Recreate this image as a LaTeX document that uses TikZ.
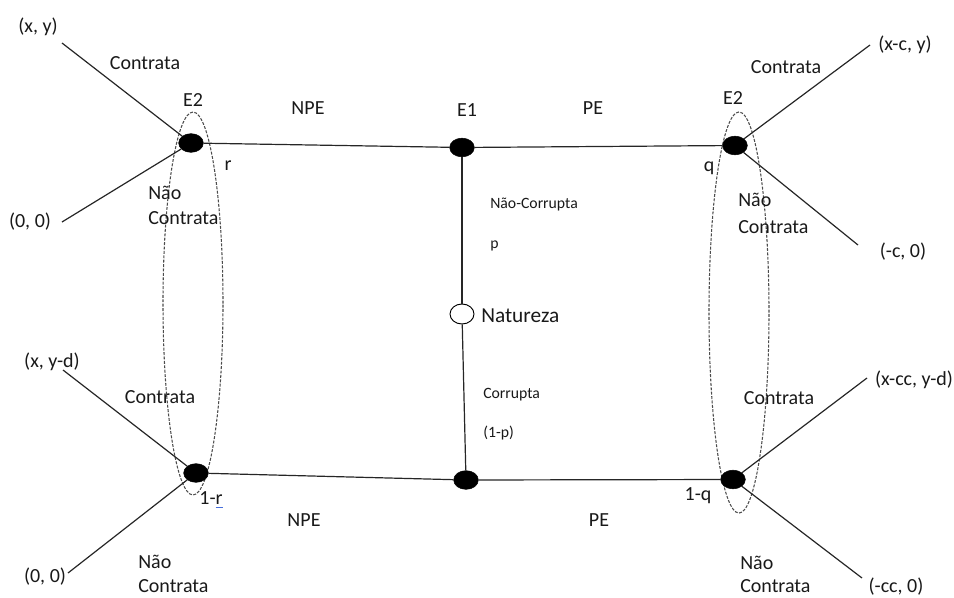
\documentclass[tikz,border=0pt]{standalone}
\usepackage{fontspec}
\setmainfont{Carlito}
\usetikzlibrary{shapes.geometric}
\definecolor{spellblue}{RGB}{70,110,220}
\tikzset{
  lab/.style={font=\fontsize{15}{18}\selectfont, inner sep=0pt, text=black!90},
  smalllab/.style={font=\fontsize{11.8}{14}\selectfont, inner sep=0pt, text=black!90},
  biglab/.style={font=\fontsize{16}{19}\selectfont, inner sep=0pt, text=black!90},
  decnode/.style={ellipse, fill=black, draw=black, minimum width=18.5pt, minimum height=14pt, inner sep=0pt},
  chancenode/.style={ellipse, fill=white, draw=black, line width=0.7pt, minimum width=18pt, minimum height=15pt, inner sep=0pt},
  branch/.style={draw=black!85, line width=0.9pt},
  infoset/.style={draw=black!70, line width=0.8pt, dash pattern=on 2.2pt off 1.1pt}
}
\begin{document}
\begin{tikzpicture}[x=0.75pt, y=-0.75pt]
\useasboundingbox (0,0) rectangle (954,597);

% information sets
\draw[infoset] (193,303.5) ellipse [x radius=22.5pt, y radius=143.6pt];
\draw[infoset] (739,312.5) ellipse [x radius=22.5pt, y radius=150.4pt];

% nodes
\node[decnode] (tl) at (191,143) {};
\node[decnode] (e1) at (462,147.5) {};
\node[decnode] (tr) at (735,145.5) {};
\node[chancenode] (nat) at (462,314) {};
\node[decnode] (bm) at (466,480) {};
\node[decnode] (bl) at (196,473) {};
\node[decnode] (br) at (733,479.5) {};

% free ends
\coordinate (tlA) at (62,43);
\coordinate (tlB) at (62,222);
\coordinate (trA) at (870,45);
\coordinate (trB) at (858,245);
\coordinate (blA) at (63,370);
\coordinate (blB) at (68,573);
\coordinate (brA) at (867,378);
\coordinate (brB) at (862,578);

% connectors
\draw[branch] (tl) -- (e1);
\draw[branch] (e1) -- (tr);
\draw[branch] (e1) -- (nat);
\draw[branch] (nat) -- (bm);
\draw[branch] (bl) -- (bm);
\draw[branch] (bm) -- (br);
\draw[branch] (tl) -- (tlA);
\draw[branch] (tl) -- (tlB);
\draw[branch] (tr) -- (trA);
\draw[branch] (tr) -- (trB);
\draw[branch] (bl) -- (blA);
\draw[branch] (bl) -- (blB);
\draw[branch] (br) -- (brA);
\draw[branch] (br) -- (brB);

% labels top-left
\node[lab] (p1) at (38,27) {(x, y)};
\node[lab] (c1) at (145,63) {Contrata};
\node[lab] (e2a) at (193,100) {E2};
\node[lab] (r) at (228,166) {r};
\node[lab, anchor=west] (n1) at (148,193) {Não};
\node[lab, anchor=west] (n1b) at (148,218) {Contrata};
\node[lab] (p2) at (30,222) {(0, 0)};

% labels top-middle
\node[lab] (npe1) at (308,108) {NPE};
\node[lab] (e1lab) at (467,110) {E1};
\node[lab] (pe1) at (593,108) {PE};

% labels top-right
\node[lab] (e2b) at (733,98) {E2};
\node[lab] (c2) at (786,67) {Contrata};
\node[lab] (p3) at (905,45) {(x-c, y)};
\node[lab] (q) at (709,168) {q};
\node[lab, anchor=west] (n2) at (738,200) {Não};
\node[lab, anchor=west] (n2b) at (738,227) {Contrata};
\node[lab] (p4) at (903,252) {(-c, 0)};

% nature labels
\node[smalllab, anchor=west] (nc) at (490,205) {Não-Corrupta};
\node[smalllab, anchor=west] (pp) at (490,246) {p};
\node[biglab, anchor=west] (natlab) at (481,316) {Natureza};
\node[smalllab, anchor=west] (co) at (483,395) {Corrupta};
\node[smalllab, anchor=west] (pq) at (483,433) {(1-p)};

% labels bottom-left
\node[lab] (p5) at (52,362) {(x, y-d)};
\node[lab] (c3) at (160,397) {Contrata};
\node[lab] (oner) at (211,500) {1-r\llap{\textcolor{spellblue}{\rule[-2.5pt]{0.35em}{0.7pt}}}};
\node[lab, anchor=west] (n3) at (138,562) {Não};
\node[lab, anchor=west] (n3b) at (138,586) {Contrata};
\node[lab] (p6) at (45,577) {(0, 0)};

% labels bottom-middle
\node[lab] (npe2) at (304,520) {NPE};
\node[lab] (pe2) at (599,520) {PE};

% labels bottom-right
\node[lab] (c4) at (779,398) {Contrata};
\node[lab] (p7) at (914,380) {(x-cc, y-d)};
\node[lab] (oneq) at (698,496) {1-q};
\node[lab, anchor=west] (n4) at (740,563) {Não};
\node[lab, anchor=west] (n4b) at (740,586) {Contrata};
\node[lab] (p8) at (896,587) {(-cc, 0)};
\end{tikzpicture}
\end{document}
